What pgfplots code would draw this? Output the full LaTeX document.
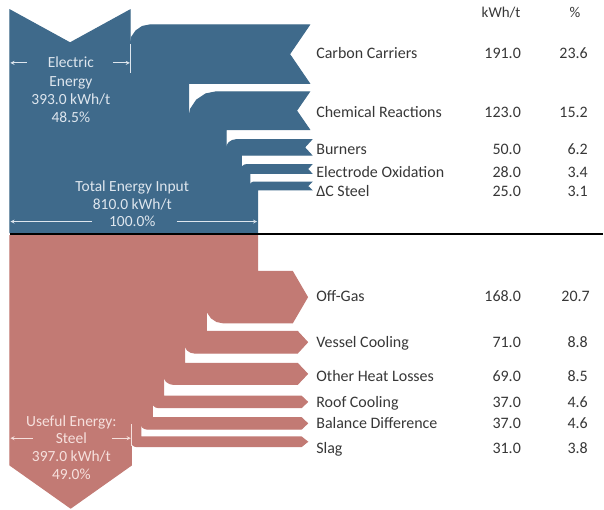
\documentclass[border=0pt]{standalone}
\usepackage{pgfplots}
\pgfplotsset{compat=1.18}
\usepackage{fontspec}
\setmainfont{Carlito}
\definecolor{blueC}{RGB}{63,106,139}
\definecolor{pinkC}{RGB}{194,122,116}
\definecolor{txt}{RGB}{55,55,55}
\definecolor{blueT}{RGB}{222,230,238}
\definecolor{pinkT}{RGB}{246,224,221}
\begin{document}
\begin{tikzpicture}
\begin{axis}[scale only axis, width=604bp, height=510bp,
  xmin=0, xmax=604, ymin=0, ymax=510, y dir=reverse,
  hide axis, clip=false]
\addplot[draw=none] coordinates {(0,0) (604,510)};
% ---------- inputs (blue) ----------
\tikzset{bl/.style={fill=blueC, draw=blueC, line width=1.1bp, line join=miter}}
\tikzset{pk/.style={fill=pinkC, draw=pinkC, line width=1.1bp, line join=miter}}
% Electric energy 393.0
\addplot[bl] coordinates {(10,10) (70.2,43) (130.3,10) (130.3,233) (10,233)} -- cycle;
% Carbon carriers 191.0
\addplot[bl] coordinates {(130.3,233) (130.3,45) (131.8,37.3) (136.2,30.9) (142.6,26.5) (150.3,25) (310,25) (290,54.25) (310,83.5) (188.8,83.5) (188.8,233)} -- cycle;
% Chemical reactions 123.0
\addplot[bl] coordinates {(188.8,233) (188.8,120) (190.9,109.3) (197,100.2) (206.1,94.1) (216.8,92) (310,92) (297,110.85) (310,129.7) (226.5,129.7) (226.5,233)} -- cycle;
% Burners 50.0
\addplot[bl] coordinates {(226.5,233) (226.5,150) (227.3,146.2) (229.4,142.9) (232.7,140.8) (236.5,140) (312,140) (305,147.65) (312,155.3) (241.8,155.3) (241.8,233)} -- cycle;
% Electrode oxidation 28.0
\addplot[bl] coordinates {(241.8,233) (241.8,170) (242.2,168.1) (243.3,166.5) (244.9,165.4) (246.8,165) (312,165) (308,169.3) (312,173.6) (250.4,173.6) (250.4,233)} -- cycle;
% Delta C steel 25.0
\addplot[bl] coordinates {(250.4,233) (250.4,186.5) (250.7,185) (251.6,183.7) (252.9,182.8) (254.4,182.5) (312,182.5) (308,186.35) (312,190.2) (258,190.2) (258,233)} -- cycle;
% ---------- outputs (pink) ----------
% Off-gas 168.0
\addplot[pk] coordinates {(206.6,236) (258,236) (258,272) (293,272) (308,297.7) (293,323.4) (223.6,323.4) (217.1,322.1) (211.6,318.4) (207.9,312.9) (206.6,306.4)} -- cycle;
% Vessel cooling 71.0
\addplot[pk] coordinates {(184.9,236) (206.6,236) (206.6,332) (298,332) (308,342.85) (298,353.7) (194.9,353.7) (191.1,352.9) (187.8,350.8) (185.7,347.5) (184.9,343.7)} -- cycle;
% Other heat losses 69.0
\addplot[pk] coordinates {(163.8,236) (184.9,236) (184.9,364) (298,364) (308,374.55) (298,385.1) (173.8,385.1) (170,384.3) (166.7,382.2) (164.6,378.9) (163.8,375.1)} -- cycle;
% Roof cooling 37.0
\addplot[pk] coordinates {(152.5,236) (163.8,236) (163.8,397) (302,397) (308,402.65) (302,408.3) (158.5,408.3) (156.2,407.8) (154.3,406.5) (153,404.6) (152.5,402.3)} -- cycle;
% Balance difference 37.0
\addplot[pk] coordinates {(141.1,236) (152.5,236) (152.5,418.5) (302,418.5) (308,424.15) (302,429.8) (147.1,429.8) (144.8,429.3) (142.9,428) (141.6,426.1) (141.1,423.8)} -- cycle;
% Slag 31.0
\addplot[pk] coordinates {(131.6,236) (141.1,236) (141.1,437.8) (302,437.8) (308,442.55) (302,447.3) (136.6,447.3) (134.7,446.9) (133.1,445.8) (132,444.2) (131.6,442.3)} -- cycle;
% Useful energy steel 397.0
\addplot[pk] coordinates {(10,236) (131.6,236) (131.6,466) (70.8,509) (10,466)} -- cycle;
% separator line
\addplot[black, line width=2.2bp] coordinates {(10,234.6) (604,234.6)};
% white ticks and arrows
\addplot[blueT, line width=0.8bp] coordinates {(131,44) (131,73)};
\addplot[pinkT, line width=0.8bp] coordinates {(131.8,425) (131.8,447)};
\addplot[blueT, line width=0.8bp, -stealth] coordinates {(27,63) (10.5,63)};
\addplot[blueT, line width=0.8bp, -stealth] coordinates {(113,63) (130,63)};
\addplot[blueT, line width=0.8bp, -stealth] coordinates {(92,222) (10.5,222)};
\addplot[blueT, line width=0.8bp, -stealth] coordinates {(177,222) (257.5,222)};
\addplot[pinkT, line width=0.8bp, -stealth] coordinates {(33,439) (10.5,439)};
\addplot[pinkT, line width=0.8bp, -stealth] coordinates {(112,439) (131,439)};
% ---------- inner texts ----------
\tikzset{inb/.style={anchor=base, text=blueT, font=\fontsize{15.5bp}{18bp}\selectfont, inner sep=0pt}}
\tikzset{inp/.style={anchor=base, text=pinkT, font=\fontsize{15.5bp}{18bp}\selectfont, inner sep=0pt}}
\node[inb] at (axis cs:71,68) {Electric};
\node[inb] at (axis cs:71,87) {Energy};
\node[inb] at (axis cs:71,105) {393.0 kWh/t};
\node[inb] at (axis cs:71,123) {48.5\%};
\node[inb] at (axis cs:132.5,192) {Total Energy Input};
\node[inb] at (axis cs:132.5,209.5) {810.0 kWh/t};
\node[inb] at (axis cs:132.5,227) {100.0\%};
\node[inp] at (axis cs:71.5,427) {Useful Energy:};
\node[inp] at (axis cs:71.5,444) {Steel};
\node[inp] at (axis cs:71.5,462) {397.0 kWh/t};
\node[inp] at (axis cs:71.5,480) {49.0\%};
% ---------- table ----------
\tikzset{lab/.style={anchor=base west, text=txt, font=\fontsize{16bp}{19bp}\selectfont, inner sep=0pt},
         num/.style={anchor=base east, text=txt, font=\fontsize{16bp}{19bp}\selectfont, inner sep=0pt},
         hd/.style={anchor=base, text=txt, font=\fontsize{15bp}{18bp}\selectfont, inner sep=0pt}}
\node[hd] at (axis cs:502,18) {kWh/t};
\node[hd] at (axis cs:576,18) {\%};
\node[lab] at (axis cs:316.7,59) {Carbon Carriers};
\node[num] at (axis cs:522,59) {191.0};
\node[num] at (axis cs:589,59) {23.6};
\node[lab] at (axis cs:316.7,118) {Chemical Reactions};
\node[num] at (axis cs:522,118) {123.0};
\node[num] at (axis cs:589,118) {15.2};
\node[lab] at (axis cs:316.7,155) {Burners};
\node[num] at (axis cs:522,155) {50.0};
\node[num] at (axis cs:589,155) {6.2};
\node[lab] at (axis cs:316.7,178) {Electrode Oxidation};
\node[num] at (axis cs:522,178) {28.0};
\node[num] at (axis cs:589,178) {3.4};
\node[lab] at (axis cs:316.7,197) {ΔC Steel};
\node[num] at (axis cs:522,197) {25.0};
\node[num] at (axis cs:589,197) {3.1};
\node[lab] at (axis cs:316.7,302) {Off-Gas};
\node[num] at (axis cs:522,302) {168.0};
\node[num] at (axis cs:591,302) {20.7};
\node[lab] at (axis cs:316.7,348) {Vessel Cooling};
\node[num] at (axis cs:522,348) {71.0};
\node[num] at (axis cs:589,348) {8.8};
\node[lab] at (axis cs:316.7,382) {Other Heat Losses};
\node[num] at (axis cs:522,382) {69.0};
\node[num] at (axis cs:589,382) {8.5};
\node[lab] at (axis cs:316.7,408) {Roof Cooling};
\node[num] at (axis cs:522,408) {37.0};
\node[num] at (axis cs:589,408) {4.6};
\node[lab] at (axis cs:316.7,429) {Balance Difference};
\node[num] at (axis cs:522,429) {37.0};
\node[num] at (axis cs:589,429) {4.6};
\node[lab] at (axis cs:316.7,454) {Slag};
\node[num] at (axis cs:522,454) {31.0};
\node[num] at (axis cs:589,454) {3.8};
\end{axis}
\end{tikzpicture}
\end{document}
